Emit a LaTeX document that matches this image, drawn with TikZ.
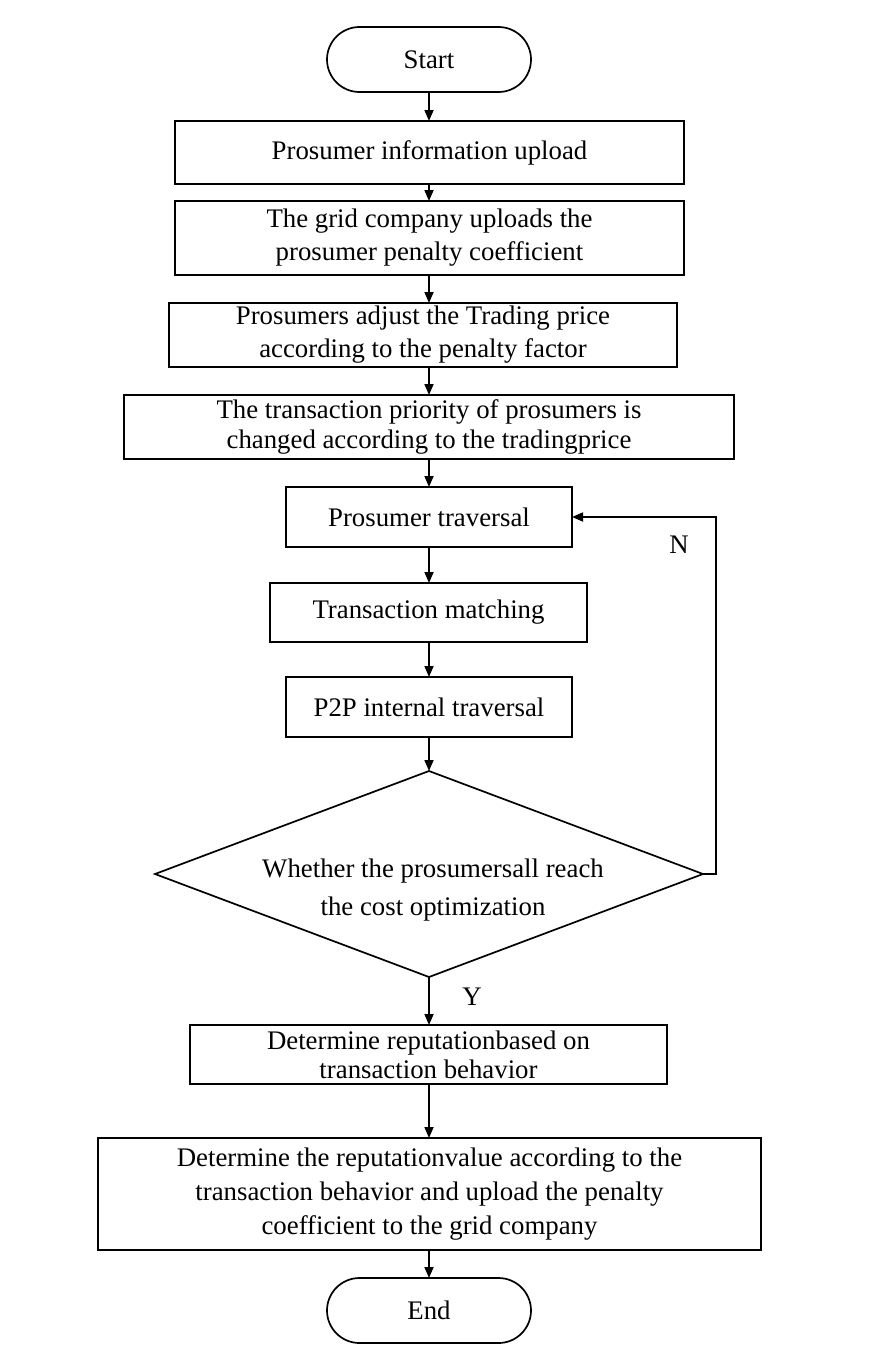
\documentclass[tikz,border=0pt]{standalone}
\usepackage{fontspec}
\setmainfont{Liberation Serif}
\usetikzlibrary{arrows.meta,shapes.misc,shapes.geometric}
\tikzset{
  every node/.style={font=\fontsize{26.8}{32}\selectfont, inner sep=0pt, outer sep=0pt},
  procbox/.style={draw, line width=1.7pt, rectangle, align=center},
  termbox/.style={draw, line width=1.7pt, rounded rectangle, minimum width=204pt, minimum height=65pt},
  decbox/.style={draw, line width=1.7pt, diamond, aspect=2.66, minimum width=548pt, minimum height=206pt},
  arr/.style={line width=1.7pt, -{Triangle[length=11pt,width=9pt]}},
  lnk/.style={line width=1.7pt}
}
\begin{document}
\begin{tikzpicture}[x=1pt,y=-1pt]
\useasboundingbox (0,0) rectangle (889,1346);
\node[termbox] (start) at (429,59.5) {Start};
\node[procbox, minimum width=509pt, minimum height=63pt] (b1) at (429.5,152.5) {Prosumer information upload};
\node[procbox, minimum width=509pt, minimum height=74pt, font=\fontsize{26.8}{33}\selectfont] (b2) at (429.5,238) {The grid company uploads the\\prosumer penalty coefficient};
\node[procbox, minimum width=508pt, minimum height=64pt, font=\fontsize{26.8}{33}\selectfont] (b3) at (423,335) {Prosumers adjust the Trading price\\according to the penalty factor};
\node[procbox, minimum width=610pt, minimum height=64pt, font=\fontsize{26.8}{30}\selectfont] (b4) at (429,427) {The transaction priority of prosumers is\\changed according to the tradingprice};
\node[procbox, minimum width=286pt, minimum height=60pt] (b5) at (429,517) {Prosumer traversal};
\node[procbox, minimum width=317pt, minimum height=59pt] (b6) at (428.5,612.5) {Transaction matching};
\node[procbox, minimum width=286pt, minimum height=60pt] (b7) at (429,707) {P2P internal traversal};
\node[decbox] (dec) at (429,874) {};
\node[align=center, font=\fontsize{26.8}{38}\selectfont] (dectxt) at (433,890) {Whether the prosumersall reach\\the cost optimization};
\node[procbox, minimum width=477pt, minimum height=59pt, font=\fontsize{26.8}{29}\selectfont] (b8) at (428.5,1054.5) {Determine reputationbased on\\transaction behavior};
\node[procbox, minimum width=663pt, minimum height=112pt, font=\fontsize{26.8}{34}\selectfont] (b9) at (429.5,1194) {Determine the reputationvalue according to the\\transaction behavior and upload the penalty\\coefficient to the grid company};
\node[termbox] (end) at (429,1310.5) {End};
\node (nlab) at (679,545) {N};
\node (ylab) at (472,997) {Y};
\coordinate (c1) at (716,874);
\coordinate (c2) at (716,517);
\draw[arr] (start.south) -- (start.south |- b1.north);
\draw[arr] (b1.south -| start) -- (b2.north -| start);
\draw[arr] (b2.south -| start) -- (b3.north -| start);
\draw[arr] (b3.south -| start) -- (b4.north -| start);
\draw[arr] (b4.south -| start) -- (b5.north -| start);
\draw[arr] (b5.south -| start) -- (b6.north -| start);
\draw[arr] (b6.south -| start) -- (b7.north -| start);
\draw[arr] (b7.south -| start) -- (dec.north);
\draw[arr] (dec.south) -- (b8.north -| dec);
\draw[arr] (b8.south -| start) -- (b9.north -| start);
\draw[arr] (b9.south -| start) -- (end.north);
\draw[arr] (dec.east) -- (c1) -- (c2) -- (b5.east);
\end{tikzpicture}
\end{document}
